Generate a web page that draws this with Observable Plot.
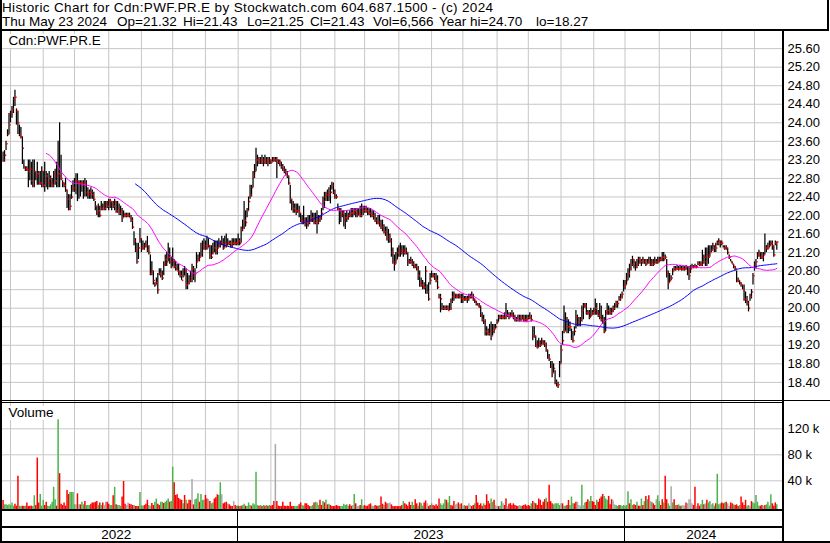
<!DOCTYPE html>
<html><head><meta charset="utf-8">
<script src="https://cdn.jsdelivr.net/npm/d3@7"></script>
<script src="https://cdn.jsdelivr.net/npm/@observablehq/plot@0.6"></script>
<style>
body{margin:0;background:#fff;}
#chart{position:relative;width:830px;height:543px;overflow:hidden;font-family:"Liberation Sans",Arial,sans-serif;color:#000;background:#fff;}
.t{position:absolute;white-space:pre;font-size:13.5px;line-height:14px;}
.h1{position:absolute;white-space:pre;font-size:13.5px;line-height:14px;letter-spacing:0.36px;}
.ln{position:absolute;background:#000;z-index:5;}
.pl{position:absolute;left:0;}
.lab{position:absolute;white-space:pre;font-size:13.5px;line-height:14px;background:#fff;padding:0 1px;z-index:4;}
</style></head><body>
<div id="chart"></div>
<script>
// ---- data: daily bars (weekdays) from 2022-05-25 to 2024-05-23 ----
const startDate = "2022-05-25";
const lo = [
23.15,23.15,23.40,23.70,23.75,24.00,24.10,24.20,24.35,23.95,
23.75,23.70,23.65,23.10,23.00,22.95,22.95,22.60,22.75,22.65,
22.60,22.60,22.75,22.65,22.65,22.65,22.60,22.60,22.50,22.60,
22.55,22.60,22.60,22.60,22.60,22.65,22.60,22.60,22.60,22.75,
22.60,22.60,22.50,22.15,22.10,22.10,22.35,22.50,22.50,22.45,
22.30,22.35,22.40,22.50,22.35,22.40,22.40,22.35,22.35,22.35,
22.35,22.30,22.10,22.00,21.95,21.95,22.10,22.10,22.10,22.10,
22.15,22.10,22.15,22.10,22.15,22.10,22.05,22.05,22.00,22.00,
21.85,21.95,21.95,21.95,21.95,21.95,21.85,21.70,21.35,21.20,
20.95,21.05,21.40,21.20,21.25,21.25,21.30,21.20,21.15,20.70,
20.70,20.50,20.45,20.50,20.30,20.70,20.65,20.60,20.70,20.90,
20.90,21.00,20.95,20.85,20.90,20.85,20.80,20.80,20.70,20.65,
20.60,20.65,20.70,20.40,20.40,20.50,20.55,20.55,20.60,20.55,
20.85,21.00,21.00,21.10,21.10,21.25,21.25,21.25,21.30,21.05,
21.05,21.15,21.20,21.15,21.15,21.30,21.30,21.35,21.25,21.30,
21.30,21.35,21.35,21.30,21.30,21.35,21.35,21.35,21.35,21.35,
21.40,21.65,21.70,21.75,21.95,22.10,22.35,22.40,22.60,22.80,
22.95,23.05,23.10,23.10,23.10,23.05,23.10,23.10,23.05,23.10,
23.10,23.15,23.15,23.15,22.80,23.10,23.05,23.00,22.95,22.90,
22.85,22.80,22.65,22.25,22.10,22.05,22.05,22.00,22.05,21.95,
21.85,21.80,21.80,21.75,21.70,21.75,21.80,21.85,21.85,21.80,
21.80,21.60,21.80,21.85,21.90,22.10,22.15,22.30,22.30,22.30,
22.25,22.55,22.45,22.35,22.35,22.10,21.80,21.85,21.95,21.75,
21.70,21.85,21.90,21.95,21.95,21.95,22.00,21.95,21.95,22.00,
21.95,21.95,22.00,22.05,22.05,22.00,22.00,21.95,21.95,21.90,
21.85,21.80,21.80,21.75,21.70,21.65,21.60,21.55,21.45,21.40,
21.40,21.10,20.95,20.80,20.95,21.05,21.10,21.10,21.15,21.10,
21.15,21.15,20.90,20.95,20.95,20.90,20.85,20.85,20.80,20.60,
20.45,20.45,20.40,20.40,20.30,20.30,20.15,20.50,20.65,20.65,
20.60,20.55,20.40,20.20,19.90,19.95,19.95,19.95,19.95,19.95,
19.95,19.95,20.10,20.15,20.20,20.20,20.20,20.20,20.10,20.10,
20.15,20.15,20.10,20.15,20.20,20.20,20.15,20.10,20.05,20.05,
20.00,19.80,19.70,19.65,19.40,19.40,19.40,19.40,19.30,19.40,
19.45,19.55,19.65,19.70,19.75,19.75,19.75,19.75,19.75,19.80,
19.75,19.80,19.80,19.75,19.70,19.70,19.70,19.70,19.70,19.75,
19.70,19.70,19.70,19.75,19.75,19.70,19.30,19.35,19.15,19.12,
19.15,19.15,19.20,19.20,19.15,19.05,18.90,18.85,18.70,18.50,
18.60,18.35,18.30,18.27,18.50,18.80,19.20,19.45,19.50,19.45,
19.45,19.50,19.30,19.25,19.40,19.55,19.60,19.60,19.60,19.70,
19.75,20.00,19.85,19.85,19.75,19.80,19.85,19.85,19.85,19.85,
19.80,19.75,19.70,19.65,19.45,19.50,19.85,19.85,19.85,19.85,
19.90,19.95,20.00,20.00,20.15,20.15,20.20,20.35,20.40,20.50,
20.60,20.65,20.80,20.90,20.85,20.80,20.85,20.90,20.95,20.90,
20.95,20.95,20.90,20.95,20.95,20.90,20.90,20.90,20.95,20.95,
20.95,20.98,21.00,21.00,21.00,21.05,20.65,20.40,20.55,20.60,
20.70,20.80,20.80,20.82,20.80,20.82,20.80,20.80,20.80,20.82,
20.70,20.60,20.75,20.85,20.85,20.85,20.85,20.92,20.90,20.90,
20.90,20.95,20.90,20.90,20.95,21.10,21.20,21.25,21.20,21.20,
21.35,21.35,21.30,21.35,21.30,21.25,21.25,21.15,21.05,21.00,
20.95,20.85,20.80,20.55,20.55,20.50,20.45,20.40,20.15,20.10,
20.05,19.92,20.15,20.20,20.50,20.80,20.85,21.05,21.10,21.05,
21.05,21.00,21.15,21.20,21.25,21.30,21.35,21.25,21.10,21.35,
21.25];
const hi = [
23.37,23.40,23.60,23.85,24.20,24.25,24.35,24.55,24.70,24.30,
24.25,23.95,23.90,23.70,23.20,23.05,23.05,23.20,23.20,23.15,
23.20,23.20,22.95,23.15,22.95,22.95,23.05,22.95,23.15,22.95,
22.90,22.95,22.85,22.80,22.95,23.00,23.15,23.60,24.00,23.30,
22.75,22.70,22.80,22.55,22.45,22.45,22.65,22.75,22.80,22.90,
22.90,22.75,22.75,22.75,22.75,22.80,22.75,22.60,22.55,22.60,
22.55,22.50,22.30,22.20,22.25,22.20,22.30,22.25,22.30,22.30,
22.30,22.35,22.35,22.30,22.30,22.35,22.30,22.30,22.25,22.20,
22.15,22.10,22.05,22.05,22.05,22.05,22.00,21.95,21.65,21.50,
21.40,21.40,21.72,21.50,21.45,21.40,21.45,21.55,21.35,21.15,
21.00,20.80,20.55,20.65,20.75,20.85,20.85,20.80,21.00,21.15,
21.20,21.40,21.30,21.10,21.30,21.05,21.00,20.95,20.95,20.80,
20.80,20.85,20.90,20.85,20.75,20.70,20.80,20.95,20.90,20.85,
21.20,21.15,21.20,21.40,21.45,21.50,21.45,21.55,21.50,21.35,
21.35,21.40,21.45,21.45,21.45,21.50,21.45,21.55,21.50,21.55,
21.60,21.50,21.45,21.45,21.50,21.50,21.50,21.50,21.60,21.50,
21.75,21.90,22.30,22.10,22.15,22.40,22.65,22.65,22.95,23.10,
23.45,23.30,23.25,23.25,23.30,23.25,23.30,23.25,23.25,23.25,
23.20,23.25,23.25,23.25,23.25,23.20,23.20,23.15,23.10,23.05,
23.00,22.95,22.85,22.65,22.35,22.30,22.25,22.25,22.25,22.20,
22.05,22.00,22.20,21.95,21.95,22.00,22.00,22.10,22.05,22.05,
22.05,22.10,22.00,22.00,22.15,22.40,22.50,22.50,22.55,22.60,
22.65,22.72,22.70,22.55,22.45,22.25,22.15,22.15,22.10,22.10,
22.05,22.10,22.05,22.10,22.15,22.15,22.15,22.15,22.15,22.15,
22.20,22.25,22.20,22.20,22.20,22.15,22.15,22.15,22.10,22.10,
22.05,21.95,22.00,22.00,21.90,21.90,21.80,21.75,21.75,21.70,
21.60,21.50,21.30,21.15,21.20,21.30,21.35,21.40,21.35,21.35,
21.35,21.30,21.20,21.05,21.10,21.05,21.00,20.95,20.95,20.90,
20.80,20.65,20.60,20.55,20.90,20.50,20.55,20.75,20.80,20.75,
20.75,20.75,20.70,20.30,20.30,20.10,20.05,20.05,20.05,20.05,
20.10,20.20,20.35,20.35,20.30,20.30,20.30,20.30,20.30,20.30,
20.25,20.25,20.25,20.30,20.30,20.35,20.30,20.20,20.15,20.10,
20.10,20.05,19.90,19.85,19.75,19.60,19.55,19.65,19.70,19.65,
19.65,19.65,19.75,19.85,19.85,19.85,19.85,19.90,20.10,19.95,
19.90,19.90,19.95,19.90,19.85,19.80,19.85,19.85,19.85,19.85,
19.85,19.85,19.85,19.85,19.90,19.85,19.60,19.60,19.40,19.30,
19.35,19.30,19.35,19.30,19.30,19.25,19.10,19.00,18.85,18.85,
18.80,18.65,18.45,18.40,18.85,19.20,19.50,20.05,19.90,19.80,
19.75,19.70,19.55,19.50,19.60,19.95,19.85,19.80,19.80,20.05,
20.10,20.10,20.10,19.95,19.95,20.00,19.95,20.00,20.20,20.10,
19.95,20.10,20.05,19.85,19.80,19.95,20.10,20.05,20.00,20.00,
20.05,20.10,20.15,20.15,20.25,20.30,20.35,20.60,20.60,20.75,
20.85,20.95,21.05,21.12,21.05,21.00,21.05,21.10,21.10,21.05,
21.10,21.05,21.05,21.05,21.10,21.10,21.05,21.05,21.10,21.05,
21.10,21.10,21.10,21.20,21.20,21.15,21.05,20.80,20.75,20.70,
20.85,20.90,20.90,20.92,20.90,20.92,20.90,20.90,20.90,20.92,
20.90,20.90,20.92,20.95,20.92,20.95,20.92,21.00,21.00,21.00,
21.25,21.15,21.30,21.30,21.35,21.35,21.35,21.40,21.35,21.40,
21.45,21.50,21.45,21.45,21.35,21.35,21.35,21.30,21.15,21.05,
21.00,20.95,20.90,20.80,20.65,20.60,20.55,20.50,20.50,20.35,
20.25,20.15,20.30,20.40,20.75,21.00,21.05,21.20,21.25,21.20,
21.20,21.20,21.60,21.35,21.40,21.45,21.45,21.45,21.35,21.45,
21.43];
const cl = [
23.20,23.30,23.55,23.75,23.95,24.20,24.30,24.50,24.55,24.25,
24.00,23.75,23.70,23.45,23.05,23.00,23.00,22.95,23.00,22.75,
22.65,22.95,22.85,22.90,22.70,22.70,22.95,22.65,22.75,22.85,
22.70,22.80,22.70,22.65,22.90,22.75,22.85,22.90,22.85,22.80,
22.70,22.65,22.55,22.35,22.15,22.20,22.40,22.60,22.55,22.75,
22.70,22.70,22.70,22.70,22.65,22.70,22.50,22.45,22.50,22.50,
22.45,22.35,22.20,22.05,22.10,22.00,22.15,22.20,22.15,22.25,
22.20,22.30,22.30,22.25,22.20,22.30,22.10,22.15,22.05,22.10,
21.95,22.00,22.00,22.00,22.00,21.95,21.90,21.75,21.45,21.25,
21.00,21.30,21.50,21.30,21.30,21.35,21.35,21.25,21.20,20.75,
20.80,20.60,20.50,20.55,20.40,20.75,20.70,20.65,20.95,21.05,
21.00,21.10,21.00,20.90,21.00,20.90,20.85,20.80,20.75,20.70,
20.60,20.70,20.80,20.50,20.55,20.60,20.65,20.85,20.70,20.75,
21.00,21.05,21.10,21.20,21.35,21.30,21.35,21.30,21.35,21.15,
21.10,21.20,21.30,21.25,21.30,21.35,21.40,21.40,21.30,21.40,
21.35,21.40,21.40,21.35,21.40,21.40,21.40,21.40,21.45,21.40,
21.70,21.75,21.90,21.85,22.10,22.30,22.45,22.60,22.85,22.95,
23.20,23.20,23.20,23.15,23.20,23.15,23.15,23.20,23.15,23.20,
23.15,23.20,23.20,23.20,23.20,23.15,23.15,23.05,23.00,22.95,
22.90,22.85,22.70,22.35,22.25,22.15,22.10,22.10,22.10,22.05,
21.90,21.85,21.90,21.85,21.80,21.85,21.90,21.95,21.90,21.85,
21.90,21.85,21.90,21.95,22.05,22.30,22.40,22.45,22.50,22.45,
22.50,22.65,22.50,22.40,22.40,22.15,22.10,22.00,22.05,21.90,
21.95,21.95,22.00,22.00,22.05,22.05,22.10,22.05,22.00,22.05,
22.00,22.10,22.10,22.15,22.10,22.05,22.05,22.00,22.00,21.95,
21.90,21.85,21.85,21.80,21.75,21.70,21.65,21.60,21.50,21.55,
21.45,21.20,21.00,20.95,21.05,21.20,21.25,21.20,21.25,21.20,
21.25,21.20,21.00,21.00,21.00,20.95,20.90,20.90,20.85,20.70,
20.55,20.50,20.45,20.45,20.80,20.35,20.20,20.60,20.70,20.70,
20.65,20.60,20.45,20.25,20.20,20.00,20.00,20.00,20.00,19.95,
20.00,20.15,20.25,20.30,20.25,20.25,20.30,20.25,20.20,20.20,
20.20,20.20,20.20,20.25,20.25,20.25,20.20,20.15,20.10,20.05,
20.05,19.85,19.75,19.70,19.50,19.45,19.45,19.50,19.40,19.50,
19.55,19.60,19.70,19.80,19.80,19.80,19.80,19.80,19.85,19.85,
19.80,19.85,19.85,19.80,19.75,19.75,19.75,19.80,19.75,19.80,
19.75,19.75,19.75,19.80,19.80,19.75,19.40,19.40,19.20,19.15,
19.25,19.20,19.30,19.25,19.20,19.10,18.95,18.90,18.75,18.60,
18.70,18.40,18.35,18.35,18.80,19.10,19.30,19.50,19.75,19.60,
19.60,19.60,19.35,19.30,19.50,19.80,19.70,19.65,19.75,19.95,
20.05,20.05,19.90,19.90,19.80,19.85,19.90,19.95,20.00,19.90,
19.85,19.80,19.75,19.70,19.50,19.90,19.95,19.90,19.90,19.95,
20.00,20.05,20.10,20.10,20.20,20.25,20.30,20.45,20.50,20.60,
20.75,20.85,20.95,21.05,21.00,20.90,20.95,21.05,21.00,21.00,
21.05,21.00,20.95,21.00,21.00,20.95,21.00,20.95,21.00,21.00,
21.00,21.05,21.05,21.10,21.05,21.10,20.75,20.55,20.60,20.65,
20.80,20.85,20.85,20.85,20.85,20.85,20.85,20.85,20.85,20.90,
20.80,20.70,20.85,20.90,20.90,20.90,20.90,20.95,20.95,20.95,
21.00,21.10,21.00,21.15,21.10,21.20,21.25,21.35,21.30,21.30,
21.40,21.45,21.40,21.40,21.30,21.30,21.30,21.20,21.10,21.00,
20.95,20.90,20.85,20.60,20.60,20.55,20.50,20.40,20.20,20.15,
20.10,20.00,20.25,20.35,20.70,20.95,21.00,21.15,21.20,21.10,
21.10,21.15,21.30,21.30,21.30,21.35,21.40,21.35,21.15,21.40,
21.43];
// daily volume, thousands of shares
const volK = [
9.8,3,3,2,3,2,6,1,4,1, 47,1,0.5,1,0.5,1,6,0.5,1,1,
0.5,17,2,75,6,19,1,10,2,7, 1,0.5,3,7,30,11,1,134,51,4,
2,6,1,25,19,22,22,22,3,3, 20,3,3,7,3,8,2,2,2,4,
6,6,7,8,2,6,2,6,2,7, 7,4,2,2,17,30,3,2,2,1,
15,39,4,2,6,4,3,2,2,0.5, 0.5,0.5,22,2,1,2,4,10,2,0.5,
5,2,7,12,4,2,7,7,5,7,
9,12,7,8,61,37,17.5,18.5,13,11, 10,4.6,17.5,10,4.6,10,10,42,3,11,
12,20,7,19,10,10,17.5,12,11,8, 4.6,6,12,14,18.5,17.5,37,18.5,4.6,6,
7,4.6,3,1,0.5,8,2,1,1,0.5, 1,2,4,1,0.5,6,2,1,4.6,3,
53,2,1,2,0.5,2,1,2,1,2, 1,2,8,
96,8,1,0.5,0.5,7,1,0.5,1,0.5, 7,0.5,0.3,0.3,0.3,1,3,6,2,1,
4.6,4.6,2,0.5,0.5,2,6,7,6,2, 10,2,8,6,10,3,4,2,0.5,0.5,
0.3,2,1,0.5,0.3,0.3,4,2,3,1, 3,1,2,19,4.6,0.3,0.5,2,11,1,
2,0.3,1,3,4.6,1,0.5,2,1,1, 2,15,4,2,7,4.6,4.6,6,3,0.3,
0.3,0.3,0.3,0.3,0.3,2,8,4.6,3,1, 7,2,7,2,11,4.6,1,6,4.6,1,
6,9,4.6,0.3,2,4.6,2,1,3,1, 12,4.6,2,4.6,11,10,6,16,2,1,
8,3,4,6,3,4.6,0.3,2,1,1, 4.6,2,0.3,2,4.6,17.5,6,2,4.6,1,
4.6,2,18.5,8,4.6,12,7,10,2,0.5, 0.3,1,8,4.6,2,12,0.5,4,5,2,
4.6,2,1,0.3,2,1,1,2,3,1, 2,1,4.6,8,6,4.6,2,12,10,2,
7,11,13,7,33,8,
4.6,3,4.6,4.6,4.6,2,4.6,4.6,1,1, 2,9.8,2,15,4.6,4.6,7,7,2,1,
33,2,6,7,11,8,16,8,7,2, 10,7,12,15,19,16,12,10,16,3,
11,9,3,2,0.5,2,2,0.5,2,1, 2,23,4.6,11,2,3,2,7,1,1,
12,2,8,16,11,17,8,7,4.6,2, 11,17,8,2,11,6,47,11,4.6,1,
31,6,11,2,2,3,1,1,2,1, 6,4.6,11,11,4.6,2,30,0.3,4.6,1,
3,10,3,4.6,10,6,8,3,4.6,1, 4.6,50,3,4.6,6,4.6,6,7,4.6,1,
6,4.6,3,2,3,0.3,2,15,6,2, 10,1,2,0.5,8,6,4.6,17.5,7,1,
1,2,1,2,3,7,1,18.5,4.6,1, 6,3];
// day direction shown by volume colour: g = up, r = down, n = unchanged
const dirs = (
"rgggggggrr"+"rggrrgrrrr"+"ggrrrgggrr"+"ggggggrgrr"+"rrrrrggggn"+"rnrggrgggr"+
"rrrrgrgrnn"+"rrggrgrggg"+"rrrnnrrrgr"+"rrgggrrrgn"+"rrggrrggrg"+
"ggrggrrrrr"+"rgrgrrrnrg"+"ggrgggrrnr"+"ggrrrggnrr"+"rnrrrnrgrg"+"rggrgggrgg"+"ggrgrgrgrg"+"rrr"+
"nrrrrrrrrr"+"rrrgggrrgg"+"rrrrggrggg"+"rrgrgrgrrr"+"rrrrgggggg"+"rrngrnnrgg"+
"rrrrrgnrrr"+"grrgrrnnrr"+"rrrrrrgrrr"+"rrggrrgrgg"+"rrnrrgrrrr"+"rggggrggrr"+
"rnnrgrngrr"+"nnrrgrrrrr"+"grrrrggrnn"+"rggnrrnrrr"+"rrrrngrrrr"+"rrgrgrrrrr"+"rrgrrr"+
"rgggggnrgg"+"rrgggrrnnn"+"gngrrggrrr"+"grrrrgggrr"+"rnnggrgggg"+"ggrggrrgrr"+
"grgrgrngrr"+"nggrrgrrgg"+"ngrgrgrgnn"+"rnnnnrrnrr"+"ggrnrggngg"+"rgggrrgrnn"+
"rrgrrrgrrr"+"rggnrggggg"+"rrnrggggrr"+"rg").split("");
const priceTicks = [18.4,18.8,19.2,19.6,20.0,20.4,20.8,21.2,21.6,22.0,22.4,22.8,23.2,23.6,24.0,24.4,24.8,25.2,25.6];
const volTicks = [40,80,120];
const title1 = "Historic Chart for Cdn:PWF.PR.E by Stockwatch.com 604.687.1500 - (c) 2024";
const title2 = ["Thu May 23 2024","Op=21.32","Hi=21.43","Lo=21.25","Cl=21.43","Vol=6,566","Year hi=24.70","lo=18.27"];
const symbolLabel = "Cdn:PWF.PR.E";
const volumeLabel = "Volume";

// ---- build table ----
const N = cl.length;
const dates = [];
for (let d = new Date(startDate + "T12:00:00"); dates.length < N; d.setDate(d.getDate() + 1)) {
  const w = d.getDay(); if (w !== 0 && w !== 6) dates.push(new Date(d));
}
const data = cl.map((c, i) => ({i, date: dates[i], lo: lo[i], hi: hi[i], c, v: volK[i], dir: dirs[i]}));
const monthIdx = [], yearIdx = [];
for (let i = 1; i < N; i++) {
  if (dates[i].getMonth() !== dates[i-1].getMonth()) monthIdx.push(i);
  if (dates[i].getFullYear() !== dates[i-1].getFullYear()) yearIdx.push(i);
}

// ---- layout ----
const chart = document.getElementById("chart");
const W = 830, FRAME_R = 783;
const xOpt = {domain: [0, N - 1], range: [2.56, 776.3], axis: null};
const grid = "#c6c6c6";
const font = {fontFamily: "'Liberation Sans', Arial, sans-serif", fontSize: "13px", background: "transparent", overflow: "visible"};

const price = Plot.plot({
  width: W, height: 370, marginLeft: 2, marginRight: W - FRAME_R, marginTop: 0, marginBottom: 0,
  style: font,
  x: xOpt,
  y: {domain: [18, 26], range: [369.4, -1.4], axis: null},
  marks: [
    Plot.ruleY(priceTicks, {stroke: grid}),
    Plot.ruleX(monthIdx, {stroke: grid}),
    Plot.ruleX(data, {x: "i", y1: "lo", y2: "hi", stroke: "#000", strokeWidth: 1.25}),
    Plot.dot(data, {x: "i", y: "c", symbol: "square", r: 0.85, fill: "#ff0000", dx: 0.9}),
    Plot.lineY(data, Plot.windowY({k: 90, anchor: "end", strict: true}, {x: "i", y: "c", stroke: "#0000ff", strokeWidth: 1})),
    Plot.lineY(data, Plot.windowY({k: 30, anchor: "end", strict: true}, {x: "i", y: "c", stroke: "#ff00ff", strokeWidth: 1})),
    Plot.axisY(priceTicks, {anchor: "right", label: null, tickSize: 0, tickPadding: 4, tickFormat: d => d.toFixed(2), fontSize: 13, fill: "#000"})
  ]
});
const volDomain = [-5.2, 162];
const volume = Plot.plot({
  width: W, height: 110, marginLeft: 2, marginRight: W - FRAME_R, marginTop: 0, marginBottom: 0,
  style: font,
  x: xOpt,
  y: {domain: volDomain, range: [108.7, 0], axis: null},
  color: {domain: ["g", "r", "n"], range: ["#4cb34c", "#ff0000", "#a9a9a9"]},
  marks: [
    Plot.ruleY(volTicks, {stroke: grid}),
    Plot.ruleX(monthIdx, {stroke: grid}),
    Plot.ruleX(data, {x: "i", y1: volDomain[0], y2: "v", stroke: "dir", strokeWidth: 1.5}),
    Plot.axisY(volTicks, {anchor: "right", label: null, tickSize: 0, tickPadding: 4, tickFormat: d => d + " k", fontSize: 13, fill: "#000"})
  ]
});
function place(el, top) { const w = document.createElement("div"); w.className = "pl"; w.style.top = top + "px"; w.appendChild(el); chart.appendChild(w); }
place(price, 31);
place(volume, 401);

function line(l, t, w, h) { const d = document.createElement("div"); d.className = "ln"; Object.assign(d.style, {left: l + "px", top: t + "px", width: w + "px", height: h + "px"}); chart.appendChild(d); }
function text(s, l, t, cls, center) { const d = document.createElement("div"); d.className = cls || "t"; d.textContent = s; d.style.left = l + "px"; d.style.top = t + "px"; if (center) d.style.transform = "translateX(-50%)"; chart.appendChild(d); return d; }

// header
text(title1, 2, 1, "h1");
const t2x = [2, 117, 183, 247, 310, 373, 439, 536];
title2.forEach((s, k) => text(s, t2x[k], 15));
line(0, 0, 2, 31); line(827, 0, 2, 31); line(0, 29.4, 829, 2);
// panel frame
line(0, 31, 2, 512);
line(781.5, 31, 2, 512);
line(0, 399.8, W, 1.5);
line(0, 402, 782, 1);
line(0, 508.8, 783, 2);
line(0, 525.8, 783, 2);
line(0, 540.8, W, 2);
// labels
text(symbolLabel, 7.5, 34.3, "lab");
text(volumeLabel, 7.5, 406, "lab");
// year band
const xs = price.scale("x");
const seps = yearIdx.map(i => xs.apply(i));
seps.forEach(x => line(x - 0.75, 510, 1.5, 31));
const bounds = [0, ...seps, FRAME_R];
for (let k = 0; k < bounds.length - 1; k++) {
  const yr = k === 0 ? dates[0].getFullYear() : dates[yearIdx[k-1]].getFullYear();
  text(String(yr), (bounds[k] + bounds[k+1]) / 2 - 2.5, 528, "t", true);
}
</script></body></html>
